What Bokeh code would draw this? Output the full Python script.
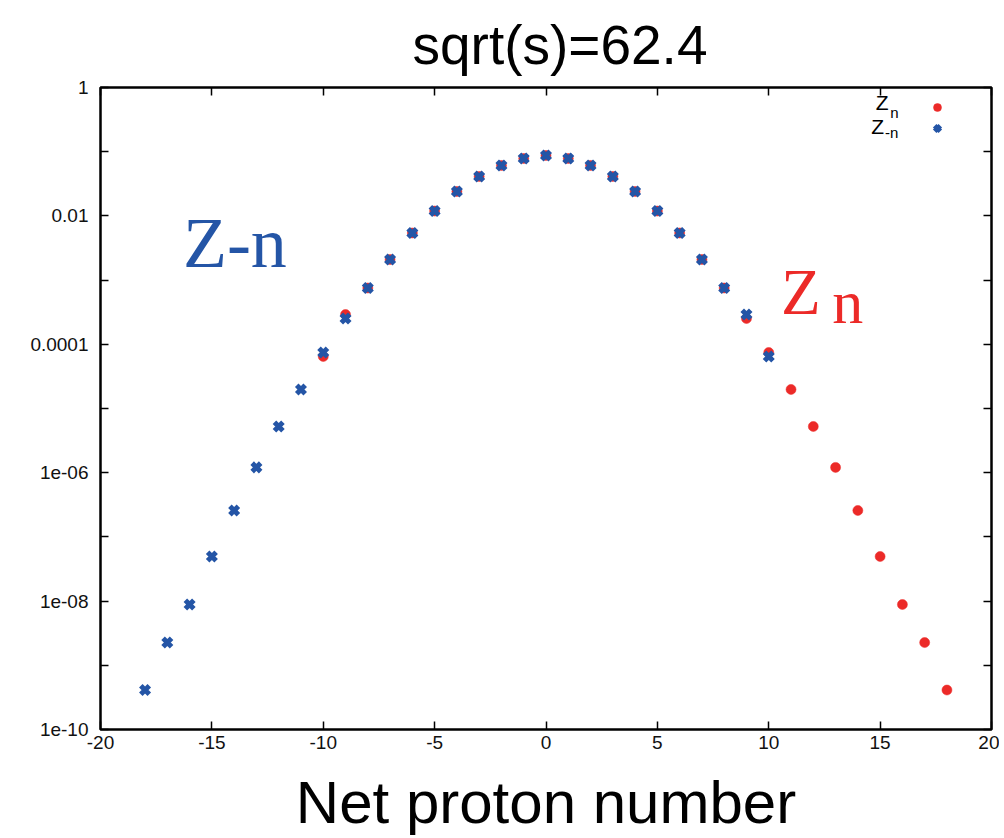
from bokeh.plotting import figure
from bokeh.models import (Range1d, FixedTicker, LinearAxis, LogAxis, Label,
                          Legend, LegendItem, ColumnDataSource)
from bokeh.embed import file_html
from bokeh.resources import INLINE

# ---------------- data ----------------
n_zn = list(range(-10, 19))
zn = [6.46e-5, 2.91e-4, 7.53e-4, 2.09e-3, 5.42e-3, 1.19e-2, 2.40e-2, 4.11e-2,
      6.10e-2, 7.83e-2, 8.73e-2, 7.83e-2, 6.10e-2, 4.11e-2, 2.40e-2, 1.19e-2,
      5.42e-3, 2.09e-3, 7.53e-4, 2.52e-4, 7.45e-5, 1.98e-5, 5.25e-6, 1.21e-6,
      2.58e-7, 4.95e-8, 8.85e-9, 2.26e-9, 4.12e-10]

n_zmn = list(range(-18, 11))
zmn = [4.12e-10, 2.26e-9, 8.85e-9, 4.95e-8, 2.58e-7, 1.21e-6, 5.25e-6, 1.98e-5,
       7.45e-5, 2.52e-4, 7.53e-4, 2.09e-3, 5.42e-3, 1.19e-2, 2.40e-2, 4.11e-2,
       6.10e-2, 7.83e-2, 8.73e-2, 7.83e-2, 6.10e-2, 4.11e-2, 2.40e-2, 1.19e-2,
       5.42e-3, 2.09e-3, 7.53e-4, 2.91e-4, 6.46e-5]

x_ticks = [-20, -15, -10, -5, 0, 5, 10, 15, 20]
x_labels = ["-20", "-15", "-10", "-5", "0", "5", "10", "15", "20"]
y_ticks = [1e-10, 1e-9, 1e-8, 1e-7, 1e-6, 1e-5, 1e-4, 1e-3, 1e-2, 1e-1, 1.0]
y_labels = ["1e-10", "", "1e-08", "", "1e-06", "", "0.0001", "", "0.01", "", "1"]

TITLE = "sqrt(s)=62.4"
RED = "#ec2a28"
BLUE = "#2455a6"
SANS = "Liberation Sans"
SERIF = "Liberation Serif"

p = figure(frame_width=891, frame_height=642,
           x_range=Range1d(-20, 20), y_range=Range1d(1e-10, 1),
           y_axis_type="log", output_backend="svg", toolbar_location=None,
           min_border_left=100, min_border_right=8, min_border_top=86,
           min_border_bottom=110)

p.grid.visible = False
p.outline_line_color = "black"
p.outline_line_width = 2.5
p.background_fill_color = "white"
p.border_fill_color = "white"

# title
p.title.text = TITLE
p.title.text_font = SANS
p.title.text_font_size = "55px"
p.title.text_font_style = "normal"
p.title.text_color = "black"
p.title.align = "left"
p.title.offset = 312
p.title.standoff = 23

# data
src_r = ColumnDataSource(dict(x=n_zn, y=zn))
src_b = ColumnDataSource(dict(x=n_zmn, y=zmn))
r_red = p.scatter("x", "y", source=src_r, marker="circle", size=10,
                  fill_color=RED, line_color=RED, line_width=0.5)
r_blue = p.scatter("x", "y", source=src_b, marker="x", size=12,
                   line_color=BLUE, line_width=5)

# axes
for ax in (p.xaxis[0], p.yaxis[0]):
    ax.axis_line_color = None
    ax.major_tick_in = 8
    ax.major_tick_out = 0
    ax.major_tick_line_width = 1.5
    ax.major_tick_line_color = "black"
    ax.minor_tick_line_color = None
    ax.major_label_text_font = SANS
    ax.major_label_text_font_size = "19px"
    ax.major_label_text_color = "#111111"

p.xaxis.ticker = FixedTicker(ticks=x_ticks)
p.xaxis.major_label_overrides = dict(zip(x_ticks, x_labels))
p.xaxis.major_label_standoff = 6
p.xaxis.axis_label = "Net proton number"
p.xaxis.axis_label_text_font = SANS
p.xaxis.axis_label_text_font_size = "60px"
p.xaxis.axis_label_text_font_style = "normal"
p.xaxis.axis_label_text_color = "black"
p.xaxis.axis_label_standoff = 17

p.yaxis.ticker = FixedTicker(ticks=y_ticks)
p.yaxis.major_label_overrides = dict(zip(y_ticks, y_labels))
p.yaxis.major_label_standoff = 12

top = LinearAxis(ticker=FixedTicker(ticks=x_ticks), axis_line_color=None,
                 major_tick_in=8, major_tick_out=0, major_tick_line_width=1.5,
                 minor_tick_line_color=None, major_label_text_font_size="1px",
                 major_label_text_alpha=0, major_label_standoff=0)
p.add_layout(top, "above")
right = LogAxis(ticker=FixedTicker(ticks=y_ticks), axis_line_color=None,
                major_tick_in=8, major_tick_out=0, major_tick_line_width=1.5,
                minor_tick_line_color=None, major_label_text_font_size="1px",
                major_label_text_alpha=0, major_label_standoff=0)
p.add_layout(right, "right")

# in-plot annotations
p.add_layout(Label(x=-16.3, y=3.72e-3, text="Z-n", text_font=SERIF,
                   text_font_size="72px", text_color=BLUE,
                   text_baseline="alphabetic"))
p.add_layout(Label(x=10.55, y=6.41e-4, text="Z", text_font=SERIF,
                   text_font_size="65px", text_color=RED,
                   text_baseline="alphabetic"))
p.add_layout(Label(x=12.85, y=4.48e-4, text="n", text_font=SERIF,
                   text_font_size="62px", text_color=RED,
                   text_baseline="alphabetic"))

# legend texts (left of the swatches, as in the reference)
p.add_layout(Label(x=14.8, y=0.584, text="Z", text_font=SANS,
                   text_font_size="21px", text_color="black",
                   text_baseline="alphabetic"))
p.add_layout(Label(x=15.45, y=0.408, text="n", text_font=SANS,
                   text_font_size="15px", text_color="black",
                   text_baseline="alphabetic"))
p.add_layout(Label(x=14.6, y=0.247, text="Z", text_font=SANS,
                   text_font_size="21px", text_color="black",
                   text_baseline="alphabetic"))
p.add_layout(Label(x=15.22, y=0.199, text="-n", text_font=SANS,
                   text_font_size="15px", text_color="black",
                   text_baseline="alphabetic"))

legend = Legend(items=[LegendItem(label="\u00a0", renderers=[r_red]),
                       LegendItem(label="\u00a0", renderers=[r_blue])],
                location="top_right", margin=10, padding=0, spacing=1,
                glyph_width=22, glyph_height=20, label_width=33,
                label_standoff=0, label_text_font_size="2px",
                border_line_color=None, background_fill_alpha=0)
p.add_layout(legend)

open("out.html", "w").write(file_html(p, INLINE))
